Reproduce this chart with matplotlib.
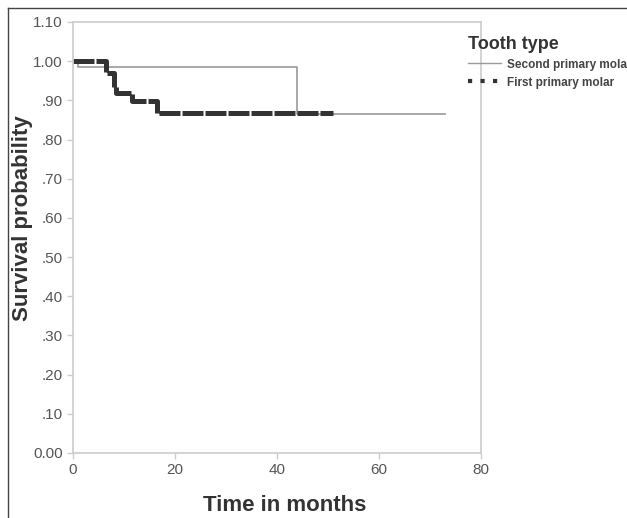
import matplotlib
matplotlib.use("Agg")
import matplotlib.pyplot as plt
from matplotlib.lines import Line2D

plt.rcParams['font.family'] = ['Liberation Sans', 'DejaVu Sans']

# Data (Kaplan-Meier step curves)
second_t = [0, 1.0, 44.0, 73.0]
second_s = [1.00, 0.986, 0.865, 0.865]
first_t = [0, 6.4, 8.0, 8.5, 11.5, 16.5, 51.0]
first_s = [1.00, 0.969, 0.934, 0.920, 0.899, 0.868, 0.868]

yticks = [0.0, 0.1, 0.2, 0.3, 0.4, 0.5, 0.6, 0.7, 0.8, 0.9, 1.0, 1.1]
ytick_labels = ["0.00", ".10", ".20", ".30", ".40", ".50", ".60", ".70",
                ".80", ".90", "1.00", "1.10"]
xticks = [0, 20, 40, 60, 80]

W, H = 627, 518
fig = plt.figure(figsize=(W / 100, H / 100), dpi=100)
ax = fig.add_axes([73 / W, 1 - 453 / H, (481 - 73) / W, (453 - 22) / H])

ax.step(second_t, second_s, where='post', color='#9a9a9a', lw=1.2,
        label='Second primary molar')
ax.step(first_t, first_s, where='post', color='#333333', lw=3.6,
        linestyle=(0, (4.2, 0.4)), solid_capstyle='butt',
        label='First primary molar')

ax.set_xlim(0, 80)
ax.set_ylim(0, 1.10)
ax.set_xticks(xticks)
ax.set_yticks(yticks)
ax.set_yticklabels(ytick_labels)
ax.tick_params(axis='both', colors='#cccccc', labelcolor='#555555',
               labelsize=11, length=4, width=1)
for sp in ax.spines.values():
    sp.set_color('#cccccc')
    sp.set_linewidth(1.2)

ax.set_xlabel('Time in months', fontsize=16, fontweight='bold', color='#333333')
ax.set_ylabel('Survival probability', fontsize=16, fontweight='bold', color='#333333')
ax.xaxis.set_label_coords(0.518, -0.097)
ax.yaxis.set_label_coords(-0.098, 0.545)

handles = [Line2D([], [], color='#9a9a9a', lw=1.0),
           Line2D([], [], color='#333333', lw=3.0, linestyle=(0, (1, 2)))]
leg = fig.legend(handles, ['Second primary molar', 'First primary molar'],
                 title='Tooth type', loc='upper left',
                 bbox_to_anchor=(463 / W, 1 - 31 / H), frameon=False,
                 prop={'size': 8.5, 'weight': 'bold'},
                 title_fontproperties={'size': 13, 'weight': 'bold'},
                 alignment='left', handlelength=2.8, handletextpad=0.5,
                 labelspacing=0.5, borderaxespad=0)
for t in leg.get_texts():
    t.set_color('#444444')
leg.get_title().set_color('#333333')

# outer frame lines (top and left)
fig.add_artist(Line2D([8 / W, 1], [1 - 8 / H, 1 - 8 / H], transform=fig.transFigure,
                      color='#444444', lw=1))
fig.add_artist(Line2D([8 / W, 8 / W], [0, 1 - 8 / H], transform=fig.transFigure,
                      color='#444444', lw=1))

fig.savefig('out.png', dpi=100)
